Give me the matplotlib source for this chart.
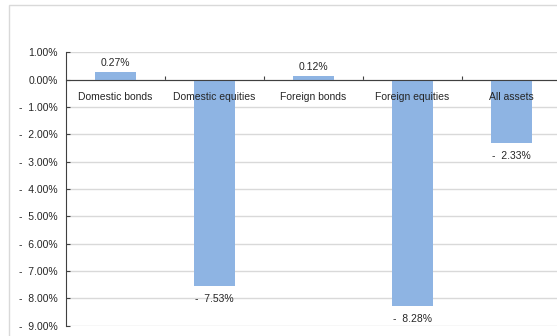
import numpy as np
import matplotlib
matplotlib.use("Agg")
import matplotlib.pyplot as plt
from matplotlib.patches import Rectangle

plt.rcParams['font.family'] = ['Liberation Sans', 'DejaVu Sans']

# Returns by asset class (%)
categories = ['Domestic bonds', 'Domestic equities', 'Foreign bonds', 'Foreign equities', 'All assets']
returns = [0.27, -7.53, 0.12, -8.28, -2.33]
yticks = [1, 0, -1, -2, -3, -4, -5, -6, -7, -8, -9]

bar_color = '#8EB4E3'
text_color = '#262626'
fs = 7.5


def fmt_pct(v):
    if v < 0:
        return f"-  {abs(v):.2f}%"
    return f"{v:.2f}%"


fig = plt.figure(figsize=(5.57, 3.36), dpi=100)
# outer chart frame
fig.patches.append(Rectangle((9 / 557, -0.1), 1.2, (336 - 5) / 336 + 0.1,
                             transform=fig.transFigure, fill=False,
                             edgecolor='#D9D9D9', linewidth=1.0))

ax = fig.add_axes([66 / 557, (336 - 325.7) / 336, (561 - 66) / 557, (325.7 - 52.3) / 336])
x = np.arange(len(categories))
ax.bar(x, returns, width=0.42, color=bar_color, zorder=3)

ax.set_xlim(-0.5, len(categories) - 0.5)
ax.set_ylim(-9, 1)
ax.set_yticks(yticks)
ax.set_yticklabels([fmt_pct(v) for v in yticks], fontsize=fs, color=text_color)
ax.yaxis.grid(True, color='#D9D9D9', linewidth=1.0, zorder=0)
ax.set_axisbelow(True)

for s in ['top', 'right']:
    ax.spines[s].set_visible(False)
ax.spines['left'].set_color('#404040')
ax.spines['bottom'].set_position(('data', 0))
ax.spines['bottom'].set_color('#404040')
ax.spines['bottom'].set_zorder(4)

ax.set_xticks(np.arange(0.5, len(categories) - 0.5))
ax.set_xticklabels([])
ax.tick_params(axis='x', direction='in', length=3, color='#404040')
ax.tick_params(axis='y', direction='in', length=3, color='#404040', pad=6)

# category labels just below the zero line
for xi, name in zip(x, categories):
    ax.text(xi, -0.62, name, ha='center', va='center', fontsize=fs, color=text_color, zorder=5)

# value labels
for xi, v in zip(x, returns):
    if v >= 0:
        ax.text(xi, v + 0.35, fmt_pct(v), ha='center', va='center', fontsize=fs, color=text_color)
    else:
        ax.text(xi, v - 0.48, fmt_pct(v), ha='center', va='center', fontsize=fs, color=text_color)

fig.savefig('out.png', dpi=100)
